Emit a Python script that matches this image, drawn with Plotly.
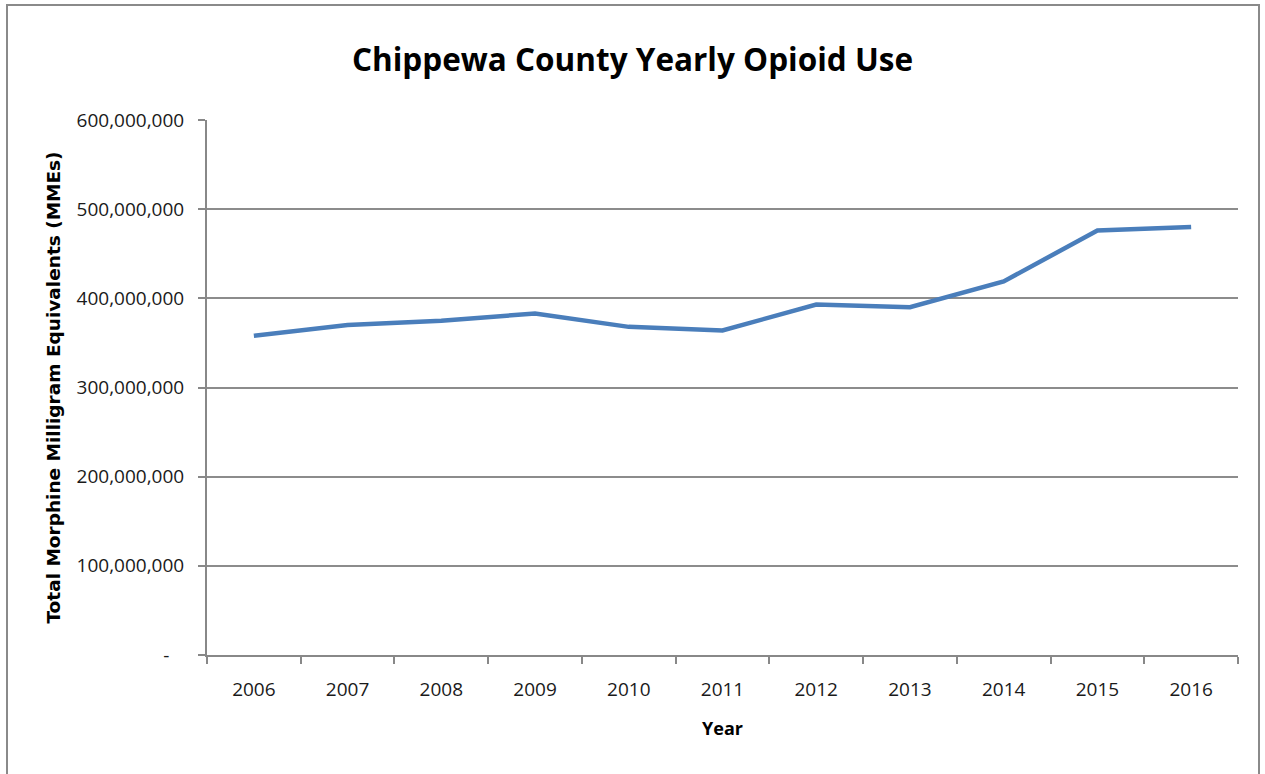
import plotly.graph_objects as go

years = ["2006", "2007", "2008", "2009", "2010", "2011", "2012", "2013", "2014", "2015", "2016"]
mme = [358e6, 370e6, 375e6, 383e6, 368e6, 364e6, 393e6, 390e6, 419e6, 476e6, 480e6]
ytick_vals = [0, 100e6, 200e6, 300e6, 400e6, 500e6, 600e6]
ytick_text = ["-\u00a0\u00a0\u00a0", "100,000,000", "200,000,000", "300,000,000", "400,000,000", "500,000,000", "600,000,000"]

W, H = 1265, 774
L, R, T, B = 207, 1238, 120, 655

fig = go.Figure()
fig.add_trace(go.Scatter(x=years, y=mme, mode="lines",
                         line=dict(color="#4a7ebb", width=4.5), showlegend=False))

pw, ph = R - L, B - T
def px(x): return (x - L) / pw
def py(y): return (B - y) / ph

fig.add_shape(type="rect", xref="paper", yref="paper",
              x0=px(7), x1=px(1259), y0=py(790), y1=py(5),
              line=dict(color="#8a8a8a", width=2), layer="below")

fig.update_layout(
    width=W, height=H,
    margin=dict(l=L, r=W - R, t=T, b=H - B),
    paper_bgcolor="white", plot_bgcolor="white",
    title=dict(text="<b>Chippewa County Yearly Opioid Use</b>", x=0.5, xanchor="center",
               y=1 - 60 / H, yanchor="middle",
               font=dict(family="Open Sans", size=31.5, color="black")),
    font=dict(family="Open Sans", color="#1a1a1a"),
)
fig.update_xaxes(type="category", range=[-0.5, 10.5], tickson="boundaries", ticks="outside", ticklen=7,
                 tickcolor="#888", tickwidth=2, showline=True, linecolor="#888", linewidth=2,
                 showgrid=False, tickfont=dict(size=19, color="#1a1a1a"), ticklabelstandoff=16,
                 title=dict(text="<b>Year</b>", font=dict(size=18, color="black"), standoff=22))
fig.update_yaxes(range=[0, 600e6], tickvals=ytick_vals, ticktext=ytick_text,
                 ticks="outside", ticklen=7, tickcolor="#888", tickwidth=2,
                 showline=True, linecolor="#888", linewidth=2,
                 showgrid=True, gridcolor="#8c8c8c", gridwidth=2, zeroline=False,
                 tickfont=dict(size=19, color="#1a1a1a"), ticklabelstandoff=10,
                 title=dict(text="<b>Total Morphine Milligram Equivalents (MMEs)</b>",
                            font=dict(family="DejaVu Sans", size=18.5, color="black"), standoff=11))
fig.write_html("out.html")
